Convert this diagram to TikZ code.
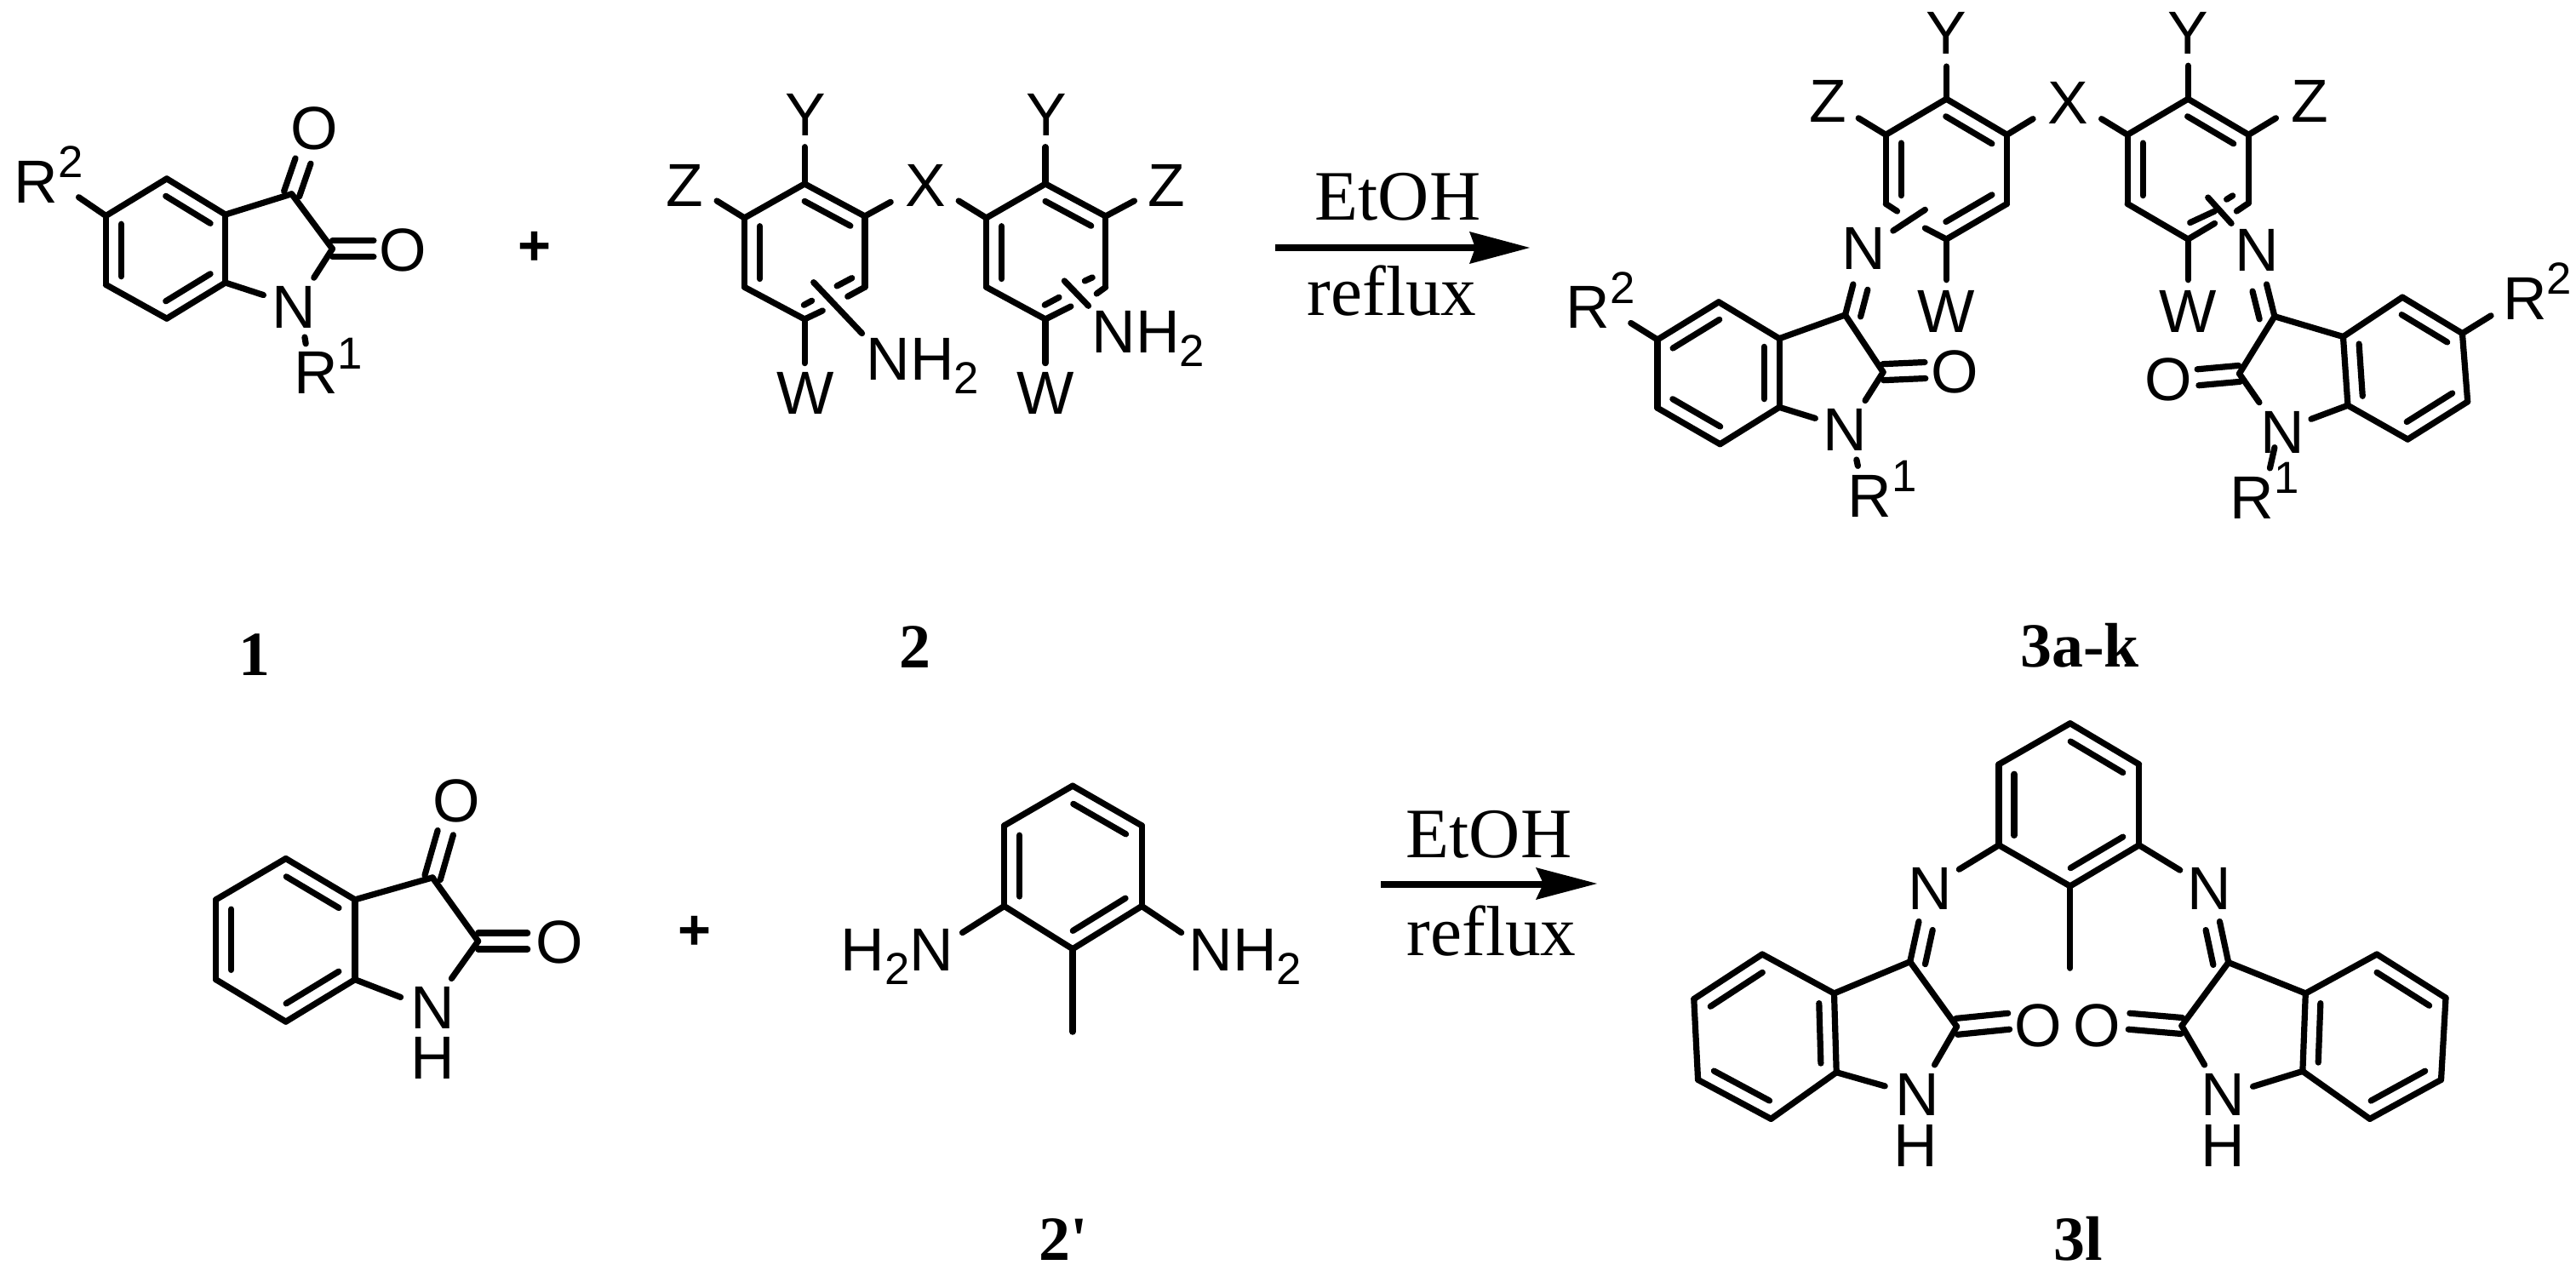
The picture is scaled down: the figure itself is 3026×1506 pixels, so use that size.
\documentclass[tikz,border=0pt]{standalone}
\usepackage{fontspec}
\setmainfont{Liberation Serif}
\setsansfont{Liberation Sans}
\newfontfamily\straightserif{Liberation Serif}
\usetikzlibrary{calc}
\tikzset{
  bondline/.style={line width=0.072cm,line cap=round,line join=round,black},
  atom/.style={inner sep=0pt,outer sep=0pt,anchor=base,font=\sffamily\fontsize{20.3}{21}\selectfont},
  atomw/.style={atom,anchor=base west},
  plusmark/.style={inner sep=0pt,outer sep=0pt,font=\sffamily\bfseries\fontsize{19}{20}\selectfont},
  cond/.style={inner sep=0pt,outer sep=0pt,anchor=base,font=\rmfamily\fontsize{23.7}{24}\selectfont},
  cmpd/.style={inner sep=0pt,outer sep=0pt,anchor=base,font=\rmfamily\bfseries\fontsize{21}{22}\selectfont},
  arrowshaft/.style={line width=0.075cm,black},
  arrowhead/.style={fill=black,draw=none}
}
\newcommand\cc[3]{\coordinate (#1) at (#2,#3);}
\newcommand\bnd[2]{\draw[bondline] (#1) -- (#2);}
\newcommand\inbf[4]{\draw[bondline,reset cm] ($(#1)!#3!(#2)!0.18cm!90:(#2)$) -- ($(#1)!#4!(#2)!0.18cm!90:(#2)$);}
\newcommand\inb[2]{\inbf{#1}{#2}{0.12}{0.88}}
\newcommand\cob[2]{\draw[bondline,reset cm] ($(#1)!0.095cm!90:(#2)$) -- ($(#2)!0.095cm!-90:(#1)$);\draw[bondline,reset cm] ($(#1)!0.095cm!-90:(#2)$) -- ($(#2)!0.095cm!90:(#1)$);}
\newcommand\sps[1]{\raisebox{8.5pt}{\fontsize{15}{15}\selectfont #1}}
\newcommand\sbs[1]{\raisebox{-4.4pt}{\fontsize{15}{15}\selectfont #1}}
\begin{document}
\begin{tikzpicture}[x=0.01cm,y=-0.01cm]
\useasboundingbox (0,0) rectangle (3026,1506);
% ---------- compound 1
\begin{scope}[shift={(0,80)},xscale=0.638,yscale=0.4847]
\cc{Aa}{307}{268}\cc{Ab}{415}{355}\cc{Ac}{415}{520}\cc{Ad}{307}{607}\cc{Ae}{195}{525}\cc{Af}{195}{358}
\cc{Ag}{537}{305}\cc{Ah}{612}{438}
\cc{AgO}{558}{225}\cc{AhO}{688}{438}\cc{AhN}{578}{508}\cc{AcN}{485}{550}\cc{AfR}{145}{313}\cc{ANa}{561}{652}\cc{ANb}{563}{668}
\bnd{Aa}{Ab}\bnd{Ab}{Ac}\bnd{Ac}{Ad}\bnd{Ad}{Ae}\bnd{Ae}{Af}\bnd{Af}{Aa}
\bnd{Ab}{Ag}\bnd{Ag}{Ah}\bnd{Ah}{AhN}\bnd{Ac}{AcN}\bnd{Af}{AfR}\bnd{ANa}{ANb}
\inb{Ab}{Aa}\inb{Af}{Ae}\inb{Ad}{Ac}
\cob{Ag}{AgO}\cob{Ah}{AhO}
\node[atom] (AO1) at (578,198) {O};
\node[atom] (AO2) at (742,492) {O};
\node[atom] (AN) at (541,630) {N};
\node[atomw] (AR2) at (26,327) {R\sps{2}};
\node[atomw] (AR1) at (541,790) {R\sps{1}};
\node[plusmark] (plusA) at (985,438) {+};
\end{scope}
% ---------- compound 2
\begin{scope}[shift={(760,80)},xscale=0.4209,yscale=0.3333]
\cc{Ba}{440}{408}\cc{Bb}{608}{522}\cc{Bc}{608}{772}\cc{Bd}{440}{885}\cc{Be}{272}{772}\cc{Bf}{272}{528}
\cc{Bcs}{560}{805}\cc{Bds}{490}{855}
\bnd{Ba}{Bb}\bnd{Bb}{Bc}\bnd{Bc}{Bcs}\bnd{Bd}{Bds}\bnd{Bd}{Be}\bnd{Be}{Bf}\bnd{Bf}{Ba}
\inb{Bb}{Ba}\inb{Bf}{Be}
\cc{Bi1}{530}{768}\cc{Bi2}{572}{740}\cc{Bi3}{438}{835}\cc{Bi4}{460}{820}
\bnd{Bi1}{Bi2}\bnd{Bi3}{Bi4}
\cc{BNa}{465}{755}\cc{BNb}{600}{935}\bnd{BNa}{BNb}
\cc{BY}{440}{278}\cc{BZ}{195}{468}\cc{BX}{680}{472}\cc{BW}{440}{1040}
\bnd{Ba}{BY}\bnd{Bf}{BZ}\bnd{Bb}{BX}\bnd{Bd}{BW}
\cc{Ca}{1112}{408}\cc{Cb}{1280}{522}\cc{Cc}{1280}{772}\cc{Cd}{1112}{885}\cc{Ce}{947}{772}\cc{Cf}{947}{528}
\cc{Ccs}{1255}{795}\cc{Cds}{1183}{840}
\bnd{Ca}{Cb}\bnd{Cb}{Cc}\bnd{Cc}{Ccs}\bnd{Cd}{Cds}\bnd{Cd}{Ce}\bnd{Ce}{Cf}\bnd{Cf}{Ca}
\inb{Cb}{Ca}\inb{Cf}{Ce}
\cc{Ci1}{1110}{835}\cc{Ci2}{1150}{808}\cc{Ci3}{1222}{750}\cc{Ci4}{1243}{738}
\bnd{Ci1}{Ci2}\bnd{Ci3}{Ci4}
\cc{CNa}{1165}{750}\cc{CNb}{1232}{838}\bnd{CNa}{CNb}
\cc{CY}{1112}{278}\cc{CZ}{1360}{468}\cc{CX}{870}{468}\cc{CW}{1112}{1040}
\bnd{Ca}{CY}\bnd{Cb}{CZ}\bnd{Cf}{CX}\bnd{Cd}{CW}
\node[atom] (BYl) at (442,240) {Y};
\node[atom] (BZl) at (105,488) {Z};
\node[atom] (BXl) at (778,488) {X};
\node[atom] (BWl) at (442,1220) {W};
\node[atomw] (BNl) at (612,1100) {NH\sbs{2}};
\node[atom] (CYl) at (1115,240) {Y};
\node[atom] (CZl) at (1450,488) {Z};
\node[atom] (CWl) at (1113,1220) {W};
\node[atomw] (CNl) at (1242,1005) {NH\sbs{2}};
\end{scope}
% ---------- first arrow
\coordinate (ArA) at (1498,291);\coordinate (ArB) at (1740,291);
\draw[arrowshaft] (ArA) -- (ArB);
\fill[arrowhead] (1797,291) -- (1726,272) -- (1733,291) -- (1726,310) -- cycle;
\node[cond] (et1) at (1642,258) {EtOH};
\node[cond] (re1) at (1635,370) {reflux};
% ---------- product 3a-k
\begin{scope}[shift={(1800,0)},xscale=0.782,yscale=0.4337]
\cc{Da}{622}{268}\cc{Db}{713}{365}\cc{Dc}{713}{552}\cc{Dd}{622}{648}\cc{De}{531}{552}\cc{Df}{531}{365}
\cc{Des}{548}{572}\cc{Dds}{590}{618}
\bnd{Da}{Db}\bnd{Db}{Dc}\bnd{Dc}{Dd}\bnd{De}{Des}\bnd{Dd}{Dds}\bnd{De}{Df}\bnd{Df}{Da}
\inb{Db}{Da}\inb{Df}{De}\inb{Dd}{Dc}
\cc{DNa}{542}{625}\cc{DNb}{590}{568}\bnd{DNa}{DNb}
\cc{DY}{622}{180}\cc{DZ}{490}{320}\cc{DX}{752}{322}\cc{DW}{622}{758}
\bnd{Da}{DY}\bnd{Df}{DZ}\bnd{Db}{DX}\bnd{Dd}{DW}
\cc{Ea}{985}{268}\cc{Eb}{1076}{365}\cc{Ec}{1076}{550}\cc{Ed}{985}{648}\cc{Ee}{894}{552}\cc{Ef}{894}{365}
\cc{Ecs}{1058}{572}\cc{Eds}{1025}{605}
\bnd{Ea}{Eb}\bnd{Eb}{Ec}\bnd{Ec}{Ecs}\bnd{Ed}{Eds}\bnd{Ed}{Ee}\bnd{Ee}{Ef}\bnd{Ef}{Ea}
\inb{Eb}{Ea}\inb{Ef}{Ee}
\cc{Ei1}{988}{603}\cc{Ei2}{1025}{572}\cc{Ei3}{1043}{540}\cc{Ei4}{1052}{530}
\bnd{Ei1}{Ei2}\bnd{Ei3}{Ei4}
\cc{ENa}{1015}{535}\cc{ENb}{1050}{605}\bnd{ENa}{ENb}
\cc{EY}{985}{178}\cc{EZ}{1117}{320}\cc{EX}{855}{322}\cc{EW}{985}{758}
\bnd{Ea}{EY}\bnd{Eb}{EZ}\bnd{Ef}{EX}\bnd{Ed}{EW}
\node[atom] (DYl) at (622,147) {Y};
\node[atom] (DZl) at (444,330) {Z};
\node[atom] (DXl) at (805,335) {X};
\node[atom] (DWl) at (622,900) {W};
\node[atom] (DNl) at (498,730) {N};
\node[atom] (EYl) at (985,147) {Y};
\node[atom] (EZl) at (1168,330) {Z};
\node[atom] (EWl) at (985,900) {W};
\node[atom] (ENl) at (1088,735) {N};
% left isatin
\cc{Fa}{280}{818}\cc{Fb}{371}{917}\cc{Fc}{371}{1103}\cc{Fd}{282}{1203}\cc{Fe}{188}{1105}\cc{Ff}{188}{920}
\cc{Fg}{470}{853}\cc{Fh}{527}{1008}
\cc{FgN}{482}{770}\cc{FhO}{590}{1003}\cc{FhN}{500}{1085}\cc{FcN}{425}{1133}\cc{FfR}{148}{875}\cc{FNa}{487}{1245}\cc{FNb}{489}{1262}
\bnd{Fa}{Fb}\bnd{Fb}{Fc}\bnd{Fc}{Fd}\bnd{Fd}{Fe}\bnd{Fe}{Ff}\bnd{Ff}{Fa}
\bnd{Fb}{Fg}\bnd{Fg}{Fh}\bnd{Fg}{FgN}\bnd{Fh}{FhN}\bnd{Fc}{FcN}\bnd{Ff}{FfR}\bnd{FNa}{FNb}
\inb{Fa}{Ff}\inb{Fc}{Fb}\inb{Fe}{Fd}
\inbf{FgN}{Fg}{0.05}{0.93}
\cob{Fh}{FhO}
\node[atom] (FO) at (635,1065) {O};
\node[atom] (FN) at (470,1222) {N};
\node[atomw] (FR2) at (51,890) {R\sps{2}};
\node[atomw] (FR1) at (474,1400) {R\sps{1}};
% right isatin
\cc{Ga}{1307}{805}\cc{Gb}{1397}{903}\cc{Gc}{1405}{1088}\cc{Gd}{1315}{1190}\cc{Ge}{1225}{1098}\cc{Gf}{1218}{912}
\cc{Gg}{1115}{857}\cc{Gh}{1062}{1012}
\cc{GgN}{1103}{770}\cc{GhO}{1000}{1022}\cc{GhN}{1092}{1090}\cc{GeN}{1170}{1135}\cc{GbR}{1440}{855}\cc{GNa}{1115}{1212}\cc{GNb}{1108}{1268}
\bnd{Ga}{Gb}\bnd{Gb}{Gc}\bnd{Gc}{Gd}\bnd{Gd}{Ge}\bnd{Ge}{Gf}\bnd{Gf}{Ga}
\bnd{Gf}{Gg}\bnd{Gg}{Gh}\bnd{Gg}{GgN}\bnd{Gh}{GhN}\bnd{Ge}{GeN}\bnd{Gb}{GbR}\bnd{GNa}{GNb}
\inb{Gb}{Ga}\inb{Gd}{Gc}\inb{Gf}{Ge}
\inbf{Gg}{GgN}{0.03}{0.9}
\cob{Gh}{GhO}
\node[atom] (GO) at (955,1085) {O};
\node[atom] (GN) at (1127,1228) {N};
\node[atomw] (GR2) at (1458,865) {R\sps{2}};
\node[atomw] (GR1) at (1048,1405) {R\sps{1}};
\end{scope}
% ---------- compound labels, row one
\node[cmpd] (L1) at (299,793) {1};
\node[cmpd] (L2) at (1075,784) {2};
\node[cmpd] (L3) at (2443,783) {3a-k};
% ---------- isatin and diamine, row two
\begin{scope}[shift={(200,880)},xscale=0.893,yscale=0.3992]
\cc{Ha}{152}{322}\cc{Hb}{243}{443}\cc{Hc}{243}{678}\cc{Hd}{152}{802}\cc{He}{60}{678}\cc{Hf}{60}{443}
\cc{Hg}{345}{378}\cc{Hh}{405}{565}
\cc{HgO}{362}{246}\cc{HhO}{470}{565}\cc{HhN}{370}{675}\cc{HcN}{303}{730}
\bnd{Ha}{Hb}\bnd{Hb}{Hc}\bnd{Hc}{Hd}\bnd{Hd}{He}\bnd{He}{Hf}\bnd{Hf}{Ha}
\bnd{Hb}{Hg}\bnd{Hg}{Hh}\bnd{Hh}{HhN}\bnd{Hc}{HcN}
\inb{Hb}{Ha}\inb{Hf}{He}\inb{Hd}{Hc}
\cob{Hg}{HgO}\cob{Hh}{HhO}
\node[atom] (HO1) at (377,215) {O};
\node[atom] (HO2) at (512,630) {O};
\node[atom] (HN) at (345,823) {N};
\node[atom] (HH) at (345,970) {H};
\node[plusmark] (plusB) at (690,540) {+};
\cc{Ia}{1187}{108}\cc{Ib}{1278}{225}\cc{Ic}{1278}{462}\cc{Id}{1187}{588}\cc{Ie}{1097}{462}\cc{If}{1097}{225}
\cc{IMe}{1187}{832}\cc{IeN}{1042}{540}\cc{IcN}{1330}{540}
\bnd{Ia}{Ib}\bnd{Ib}{Ic}\bnd{Ic}{Id}\bnd{Id}{Ie}\bnd{Ie}{If}\bnd{If}{Ia}
\bnd{Id}{IMe}\bnd{Ie}{IeN}\bnd{Ic}{IcN}
\inb{Ib}{Ia}\inb{If}{Ie}\inb{Id}{Ic}
\node[atomw] (INa) at (882,653) {H\sbs{2}N};
\node[atomw] (INb) at (1340,653) {NH\sbs{2}};
\node[cmpd] (L2p) at (1175,1505) {\straightserif\bfseries 2'};
\end{scope}
% ---------- second arrow
\coordinate (ArC) at (1622,1039);\coordinate (ArD) at (1820,1039);
\draw[arrowshaft] (ArC) -- (ArD);
\fill[arrowhead] (1876,1038) -- (1804,1019) -- (1813,1038) -- (1804,1057) -- cycle;
\node[cond] (et2) at (1749,1007) {EtOH};
\node[cond] (re2) at (1752,1122) {reflux};
% ---------- product 3l
\begin{scope}[shift={(1950,820)},xscale=0.6862,yscale=0.4375]
\cc{Ja}{702}{68}\cc{Jb}{820}{178}\cc{Jc}{820}{395}\cc{Jd}{702}{505}\cc{Je}{580}{395}\cc{Jf}{580}{178}
\cc{JMe}{702}{725}\cc{JeN}{512}{460}\cc{JcN}{890}{462}
\bnd{Ja}{Jb}\bnd{Jb}{Jc}\bnd{Jc}{Jd}\bnd{Jd}{Je}\bnd{Je}{Jf}\bnd{Jf}{Ja}
\bnd{Jd}{JMe}\bnd{Je}{JeN}\bnd{Jc}{JcN}
\inb{Jb}{Ja}\inb{Jf}{Je}\inb{Jd}{Jc}
\node[atom] (JNa) at (463,568) {N};
\node[atom] (JNb) at (941,568) {N};
% left
\cc{Ka}{175}{688}\cc{Kb}{298}{793}\cc{Kc}{302}{1005}\cc{Kd}{190}{1130}\cc{Ke}{65}{1025}\cc{Kf}{58}{808}
\cc{Kg}{428}{708}\cc{Kh}{508}{882}
\cc{KgN}{443}{600}\cc{KhO}{597}{868}\cc{KhN}{470}{985}\cc{KcN}{385}{1042}
\bnd{Ka}{Kb}\bnd{Kb}{Kc}\bnd{Kc}{Kd}\bnd{Kd}{Ke}\bnd{Ke}{Kf}\bnd{Kf}{Ka}
\bnd{Kb}{Kg}\bnd{Kg}{Kh}\bnd{Kg}{KgN}\bnd{Kh}{KhN}\bnd{Kc}{KcN}
\inb{Ka}{Kf}\inb{Kc}{Kb}\inb{Ke}{Kd}
\inbf{KgN}{Kg}{0.13}{0.98}
\cob{Kh}{KhO}
\node[atom] (KO) at (648,935) {O};
\node[atom] (KN) at (440,1122) {N};
\node[atom] (KH) at (438,1258) {H};
% right
\cc{Ma}{1227}{688}\cc{Mb}{1345}{805}\cc{Mc}{1337}{1025}\cc{Md}{1215}{1130}\cc{Me}{1100}{1002}\cc{Mf}{1105}{793}
\cc{Mg}{973}{710}\cc{Mh}{893}{880}
\cc{MgN}{958}{600}\cc{MhO}{803}{868}\cc{MhN}{932}{985}\cc{MeN}{1015}{1043}
\bnd{Ma}{Mb}\bnd{Mb}{Mc}\bnd{Mc}{Md}\bnd{Md}{Me}\bnd{Me}{Mf}\bnd{Mf}{Ma}
\bnd{Mf}{Mg}\bnd{Mg}{Mh}\bnd{Mg}{MgN}\bnd{Mh}{MhN}\bnd{Me}{MeN}
\inb{Mb}{Ma}\inb{Md}{Mc}\inb{Mf}{Me}
\inbf{Mg}{MgN}{0.02}{0.87}
\cob{Mh}{MhO}
\node[atom] (MO) at (748,935) {O};
\node[atom] (MN) at (964,1122) {N};
\node[atom] (MH) at (964,1258) {H};
\node[cmpd] (L3l) at (716,1510) {3l};
\end{scope}
\end{tikzpicture}
\end{document}
